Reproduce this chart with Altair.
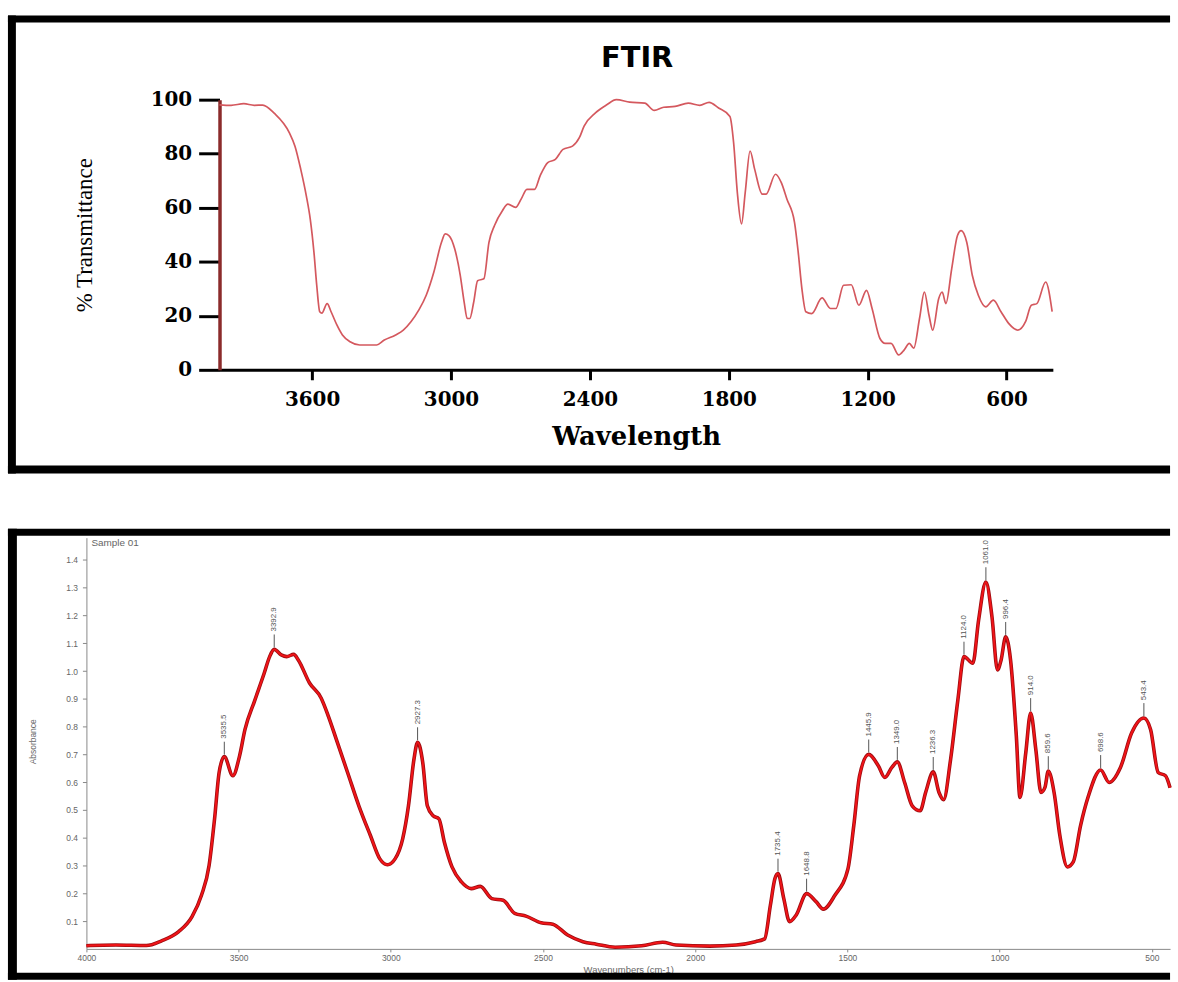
import altair as alt
import pandas as pd

# ---------------- top panel: FTIR % transmittance ----------------
top_wn = [4000, 3950, 3895, 3850, 3813, 3764, 3698, 3674, 3649, 3625,
          3608, 3592, 3580, 3567, 3558, 3535, 3518, 3493, 3469, 3436,
          3394, 3321, 3288, 3239, 3206, 3173, 3140, 3107, 3074, 3041,
          3025, 3009, 2984, 2960, 2943, 2930, 2919, 2902, 2885, 2858,
          2836, 2812, 2778, 2754, 2721, 2697, 2672, 2639, 2615, 2582,
          2549, 2516, 2475, 2445, 2425, 2376, 2327, 2286, 2228, 2163,
          2122, 2081, 2032, 1975, 1925, 1885, 1844, 1795, 1779, 1763,
          1745, 1729, 1708, 1688, 1655, 1639, 1598, 1573, 1549, 1516,
          1500, 1484, 1467, 1442, 1397, 1361, 1337, 1304, 1271, 1238,
          1205, 1181, 1147, 1124, 1099, 1066, 1042, 1020, 1001, 976,
          955, 935, 919, 893, 878, 862, 837, 812, 796, 772,
          748, 722, 690, 657, 624, 591, 551, 518, 493, 469,
          431, 403]
top_T = [98.1, 97.9, 98.5, 97.9, 98.0, 95, 87.7, 82.8, 74.2, 64.4,
         55.8, 43.5, 31.3, 21.5, 21.0, 24.5, 21.5, 16.6, 12.9, 10.4,
         9.2, 9.2, 11, 12.9, 14.7, 17.8, 22, 27.6, 36.2, 47.2,
         50.3, 49.7, 44.8, 35, 25, 19, 19, 25, 33, 33.7,
         47.2, 53.4, 58.9, 61.3, 60.1, 63.2, 66.8, 66.8, 71.8, 76.7,
         77.9, 81.6, 82.8, 86, 90.2, 95.1, 98.1, 100, 99.1, 98.7,
         96, 97.2, 97.5, 98.7, 97.9, 99, 96.9, 93.8, 84, 65.6,
         54, 65.6, 81, 74.2, 65, 65, 72.4, 69.3, 63.2, 54.6,
         43.5, 30, 21.5, 20.8, 26.6, 22.7, 22.7, 31.3, 31.5, 23.9,
         29.4, 22.7, 11.6, 9.8, 9.8, 5.5, 7.4, 9.8, 8, 19,
         28.8, 20.2, 14.7, 26.4, 28.8, 24.5, 37.4, 49.7, 51.5, 47.2,
         35, 27.6, 23.3, 25.8, 21.5, 17.2, 14.7, 17.8, 23.9, 24.5,
         32.5, 21.5]
top_xticks = [3600, 3000, 2400, 1800, 1200, 600]
top_yticks = [0, 20, 40, 60, 80, 100]

# ---------------- bottom panel: absorbance spectrum ----------------
bot_wn = [4000, 3988, 3903, 3803, 3753, 3697, 3653, 3622, 3597, 3579,
          3564, 3547, 3519, 3497, 3479, 3448, 3416, 3398, 3383, 3360,
          3342, 3319, 3304, 3267, 3229, 3205, 3179, 3142, 3105, 3067,
          3036, 3011, 2986, 2961, 2942, 2924, 2912, 2895, 2880, 2861,
          2842, 2824, 2799, 2768, 2736, 2706, 2668, 2631, 2593, 2556,
          2506, 2468, 2419, 2369, 2325, 2263, 2176, 2107, 2063, 1952,
          1865, 1802, 1772, 1753, 1738, 1728, 1709, 1690, 1668, 1634,
          1603, 1579, 1541, 1498, 1479, 1460, 1430, 1398, 1377, 1354,
          1336, 1312, 1287, 1261, 1243, 1218, 1199, 1184, 1161, 1137,
          1117, 1088, 1069, 1045, 1025, 1007, 995, 980, 964, 945,
          933, 914, 898, 881, 864, 851, 840, 821, 802, 777,
          758, 734, 708, 668, 640, 603, 566, 526, 504, 479,
          455, 440]
bot_A = [0.011, 0.012, 0.014, 0.012, 0.029, 0.062, 0.116, 0.193, 0.30, 0.468,
         0.635, 0.692, 0.623, 0.694, 0.79, 0.891, 0.992, 1.052, 1.078, 1.058,
         1.052, 1.060, 1.04, 0.957, 0.903, 0.837, 0.754, 0.635, 0.515, 0.408,
         0.324, 0.303, 0.324, 0.396, 0.515, 0.682, 0.744, 0.670, 0.515, 0.479,
         0.468, 0.384, 0.295, 0.241, 0.217, 0.225, 0.181, 0.175, 0.128, 0.118,
         0.094, 0.089, 0.05, 0.026, 0.017, 0.006, 0.011, 0.024, 0.014, 0.010,
         0.014, 0.026, 0.036, 0.157, 0.253, 0.271, 0.181, 0.098, 0.122, 0.199,
         0.17, 0.143, 0.193, 0.289, 0.444, 0.623, 0.70, 0.658, 0.617, 0.653,
         0.673, 0.599, 0.515, 0.497, 0.563, 0.637, 0.563, 0.537, 0.682, 0.897,
         1.052, 1.028, 1.183, 1.32, 1.195, 1.004, 1.04, 1.123, 1.04, 0.766,
         0.545, 0.706, 0.849, 0.718, 0.563, 0.581, 0.64, 0.563, 0.408, 0.295,
         0.313, 0.444, 0.551, 0.644, 0.599, 0.653, 0.778, 0.831, 0.79, 0.635,
         0.623, 0.58]

peak_wn = [3547, 3383, 2912, 1728, 1634, 1430, 1336, 1218, 1117, 1045, 980, 898, 840, 668, 526]
peak_A = [0.692, 1.078, 0.744, 0.271, 0.199, 0.70, 0.673, 0.637, 1.052, 1.32, 1.123, 0.849, 0.64, 0.644, 0.831]
peak_lbl = ["3535.5", "3392.9", "2927.3", "1735.4", "1648.8", "1445.9", "1349.0", "1236.3",
            "1124.0", "1061.0", "996.4", "914.0", "859.6", "698.6", "543.4"]

bot_xticks = [4000, 3500, 3000, 2500, 2000, 1500, 1000, 500]
bot_yticks = [0.1, 0.2, 0.3, 0.4, 0.5, 0.6, 0.7, 0.8, 0.9, 1.0, 1.1, 1.2, 1.3, 1.4]

top_df = pd.DataFrame({"wn": top_wn, "T": top_T})
bot_df = pd.DataFrame({"wn": bot_wn, "A": bot_A})
peak_df = pd.DataFrame({"wn": peak_wn, "A": peak_A, "label": peak_lbl})
one = alt.Data(values=[{"k": 1}])

# both plot areas start at the same x (vconcat aligns them)
PW = 1091


def bar(x1, x2, y1, y2):
    """solid black frame bar (decoration), in pixels relative to the plot area"""
    return alt.Chart(one).mark_rect(color="black", strokeWidth=0).encode(
        x=alt.value(x1), x2=alt.value(x2), y=alt.value(y1), y2=alt.value(y2))


# ---------------- top chart ----------------
TH = 272
serif_b = "DejaVu Serif"
T_X0, T_X1 = 134, 973   # pixel range of the wavenumber axis inside the panel

tx = alt.X("wn:Q", scale=alt.Scale(domain=[4000, 400], range=[T_X0, T_X1], nice=False, zero=False),
           axis=alt.Axis(values=top_xticks, format="d", title="Wavelength", grid=False,
                         domainColor="black", domainWidth=3,
                         tickColor="black", tickWidth=3, tickSize=10,
                         labelFont=serif_b, labelFontWeight="bold", labelFontSize=20,
                         labelColor="black", labelPadding=10, labelFlush=False,
                         titleFont=serif_b, titleFontWeight="bold", titleFontSize=26,
                         titleColor="black", titleX=(T_X0 + T_X1) / 2, titleY=67,
                         titleBaseline="middle"))
ty = alt.Y("T:Q", scale=alt.Scale(domain=[0, 100], nice=False),
           axis=alt.Axis(values=top_yticks, title="% Transmittance", grid=False,
                         offset=-T_X0,
                         domainColor="#8b2b2b", domainWidth=3.5,
                         tickColor="black", tickWidth=3, tickSize=21,
                         labelFont=serif_b, labelFontWeight="bold", labelFontSize=20,
                         labelColor="black", labelPadding=7,
                         titleFont="Liberation Serif", titleFontWeight="normal",
                         titleFontSize=23, titleColor="black",
                         titleX=-136, titleY=136, titleBaseline="middle"))

top_line = alt.Chart(top_df).mark_line(color="#d4585e", strokeWidth=1.7,
                                       interpolate="monotone").encode(x=tx, y=ty)

top_title = alt.Chart(one).mark_text(text="FTIR", font="DejaVu Sans", fontWeight="bold",
                                     fontSize=29, color="black", align="center",
                                     baseline="alphabetic").encode(
    x=alt.value((T_X0 + T_X1) / 2 + 1), y=alt.value(-33))

top_frame = [
    bar(-79, -71, -84.7, 376.3),
    bar(-79, PW, -84.7, -77.7),
    bar(-79, PW, 368.3, 376.3),
]

top = alt.layer(top_line, top_title, *top_frame).properties(width=PW, height=TH)

# ---------------- bottom chart ----------------
BH = 414
gray = "#888888"
lab = "#666666"
sans = "Liberation Sans"

bx = alt.X("wn:Q", scale=alt.Scale(domain=[4000, 440], nice=False, zero=False),
           axis=alt.Axis(values=bot_xticks, format="d", title="Wavenumbers (cm-1)", grid=False,
                         domainColor=gray, domainWidth=1, tickColor=gray, tickSize=3,
                         labelFont=sans, labelFontSize=8.5, labelColor=lab, labelPadding=2,
                         labelFlush=False, labelOverlap=False,
                         titleFont=sans, titleFontSize=9.5, titleFontWeight="normal",
                         titleColor=lab, titleY=21, titleBaseline="middle"))
by = alt.Y("A:Q", scale=alt.Scale(domain=[0, 1.48], nice=False),
           axis=alt.Axis(values=bot_yticks, format=".1f", title="Absorbance", grid=False,
                         domainColor=gray, domainWidth=1, tickColor=gray, tickSize=4,
                         labelFont=sans, labelFontSize=8.5, labelColor=lab, labelPadding=5,
                         labelOverlap=False,
                         titleFont=sans, titleFontSize=8.5, titleFontWeight="normal",
                         titleColor=lab, titleX=-54, titleY=205, titleBaseline="middle"))

bot_under = alt.Chart(bot_df).mark_line(color="#9c0c10", strokeWidth=3.6,
                                        interpolate="monotone").encode(x=bx, y=by)
bot_over = alt.Chart(bot_df).mark_line(color="#f01418", strokeWidth=2.0,
                                       interpolate="monotone").encode(x=bx, y=by)

peak_tick = alt.Chart(peak_df).mark_rule(color="#555555", strokeWidth=1,
                                         yOffset=-2, y2Offset=-15).encode(
    x=bx, y=by, y2="A:Q")
peak_text = alt.Chart(peak_df).mark_text(angle=270, align="left", baseline="middle",
                                         font=sans, fontSize=8, color="#555555",
                                         yOffset=-18).encode(
    x=bx, y=by, text="label:N")

sample_txt = alt.Chart(one).mark_text(text="Sample 01", align="left", baseline="middle",
                                      font=sans, fontSize=10, color="#666666").encode(
    x=alt.value(5), y=alt.value(5))

bot_frame = [
    bar(-79, -70, -9, 445),
    bar(-79, PW, -9, -2),
    bar(-79, PW, 438, 445),
]

bottom = alt.layer(bot_under, bot_over, peak_tick, peak_text, sample_txt, *bot_frame).properties(
    width=PW, height=BH)

chart = alt.vconcat(top, bottom, spacing=55).properties(
    padding={"left": 8, "top": 12, "right": 0, "bottom": 0},
    background="white",
).configure_view(strokeWidth=0)

chart.save("out.html", embed_options={"renderer": "svg", "actions": False})
